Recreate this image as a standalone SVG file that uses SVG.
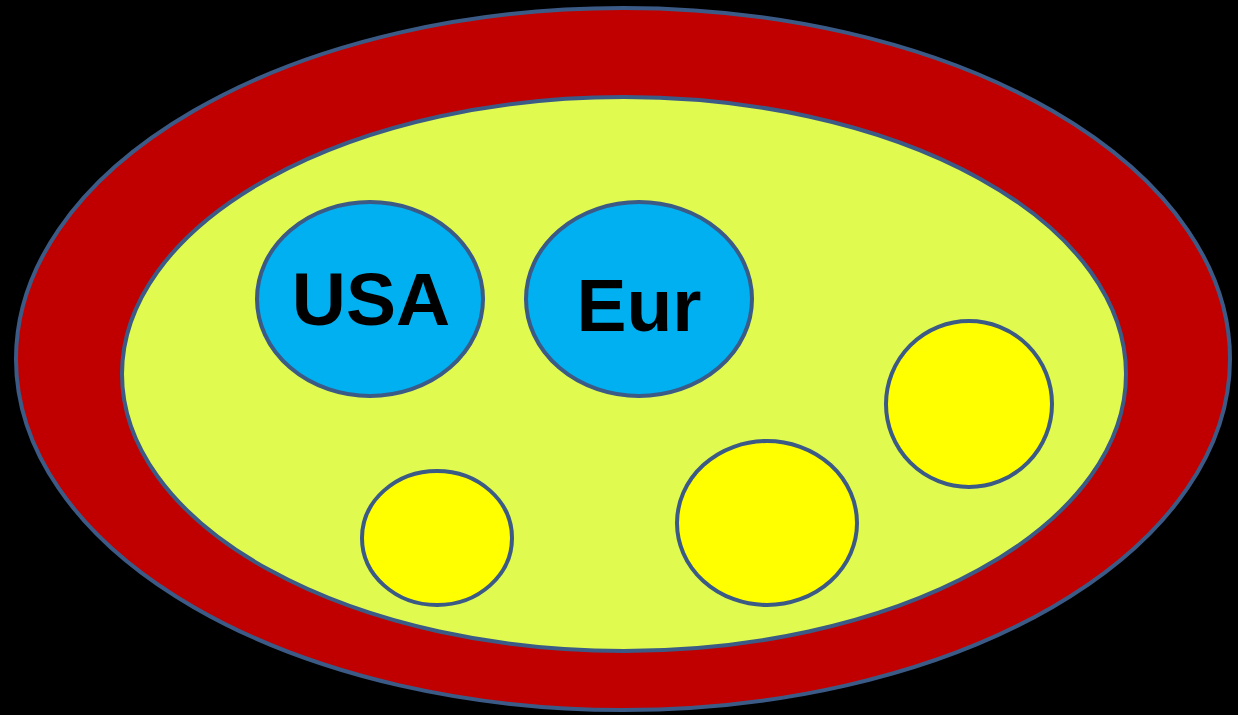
<svg xmlns="http://www.w3.org/2000/svg" width="1238" height="715" viewBox="0 0 1238 715">
<style>
.o{stroke:#3b5a86;stroke-width:4}
.t{font-family:"Liberation Sans",Arial,sans-serif;font-weight:bold;font-size:75px;fill:#000;text-anchor:middle}
</style>
<rect width="1238" height="715" fill="#000"/>
<g id="outer"><ellipse class="o" cx="623" cy="359" rx="607" ry="351" fill="#c00000"/></g>
<g id="inner"><ellipse class="o" cx="624" cy="374" rx="502" ry="277" fill="#e0fa50"/></g>
<g id="usa"><ellipse class="o" cx="370" cy="299" rx="113" ry="97" fill="#00b0f0"/><text class="t" x="371" y="325">USA</text></g>
<g id="eur"><ellipse class="o" cx="639" cy="299" rx="113" ry="97" fill="#00b0f0"/><text class="t" x="639" y="331">Eur</text></g>
<g id="c1"><ellipse class="o" cx="437" cy="538" rx="75" ry="67" fill="#ffff00"/></g>
<g id="c2"><ellipse class="o" cx="767" cy="523" rx="90" ry="82" fill="#ffff00"/></g>
<g id="c3"><ellipse class="o" cx="969" cy="404" rx="83" ry="83" fill="#ffff00"/></g>
<g id="connectors"></g>
</svg>
